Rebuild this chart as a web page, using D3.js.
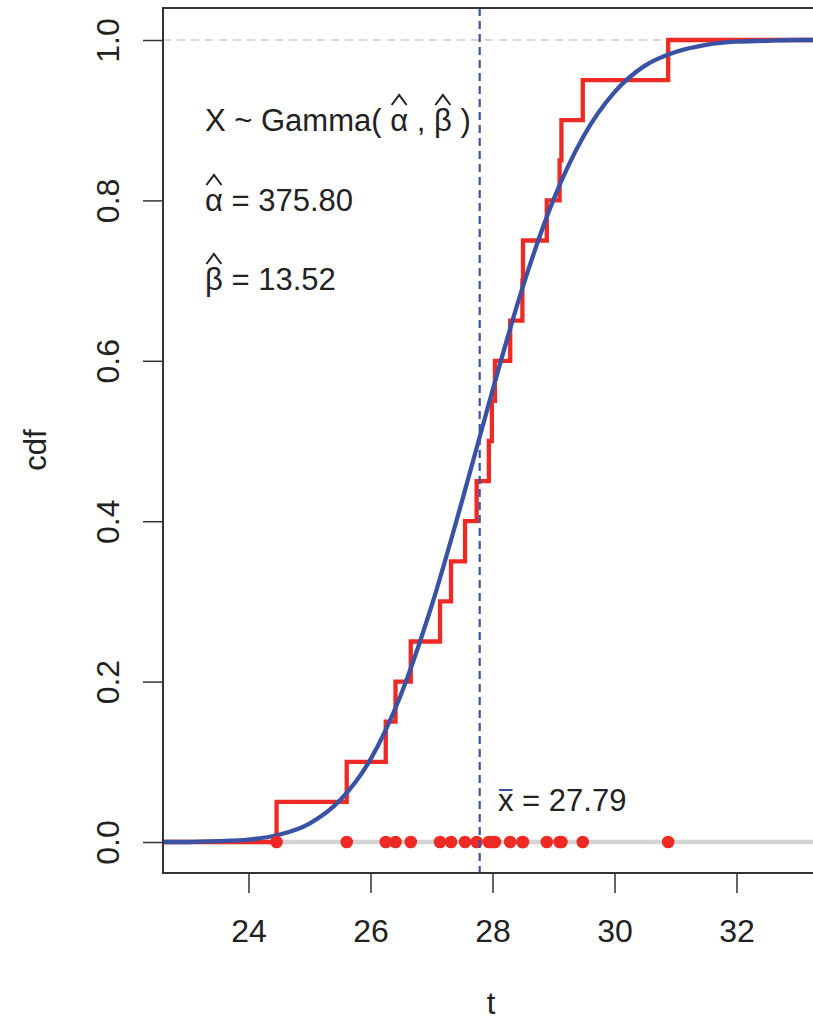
<!DOCTYPE html>
<html lang="en">
<head>
  <meta charset="UTF-8">
  <title>Gamma fit to empirical cdf</title>
  <script src="https://d3js.org/d3.v7.min.js"></script>
  <style>
    body { margin: 0; background: #fff; }
    svg { display: block; font-family: "Liberation Sans", Arial, Helvetica, sans-serif; }
    .tick line { stroke: #333; stroke-width: 1.5; }
    .tick text { fill: #222; font-size: 32px; }
    .lab { fill: #222; font-size: 31px; }
  </style>
</head>
<body>
<div id="chart"></div>
<script>
const sample = [24.46, 25.61, 26.25, 26.41, 26.66, 27.14, 27.32, 27.55, 27.74, 27.94,
                27.99, 28.04, 28.29, 28.49, 28.50, 28.89, 29.10, 29.13, 29.48, 30.88];

// fitted cdf curve
const curveT   = [22.6, 23.0, 23.5, 24.0, 24.5, 25.0, 25.5, 26.0, 26.5, 27.0, 27.5,
                  28.0, 28.5, 29.0, 29.5, 30.0, 30.5, 31.0, 31.5, 32.0, 32.5, 33.0, 33.5];
const curveCdf = [0.000, 0.000, 0.001, 0.003, 0.009, 0.023, 0.052, 0.103, 0.184, 0.294, 0.425,
                  0.563, 0.693, 0.801, 0.881, 0.935, 0.968, 0.985, 0.994, 0.998, 0.999, 1.000, 1.000];

const xTicks = [24, 26, 28, 30, 32];
const yTicks = [0, 0.2, 0.4, 0.6, 0.8, 1.0];

const alphaHat = "375.80";
const betaHat = "13.52";
const meanT = 27.79;

const W = 813, H = 1021;
const box = { left: 163, top: 8, right: 840, bottom: 873 };

const red = "#ee2a24", blue = "#3a52a3";

const svg = d3.select("#chart").append("svg")
  .attr("width", W).attr("height", H);

const x = d3.scaleLinear().domain([24, 32]).range([248.5, 736.5]);
const y = d3.scaleLinear().domain([0, 1]).range([842, 40]);

const tLeft = x.invert(box.left), tRight = x.invert(box.right);

svg.append("defs").append("clipPath").attr("id", "plotclip")
  .append("rect")
  .attr("x", box.left).attr("y", box.top)
  .attr("width", box.right - box.left).attr("height", box.bottom - box.top);

const plot = svg.append("g").attr("clip-path", "url(#plotclip)");

// reference lines at 0 and 1
plot.append("line")
  .attr("x1", box.left).attr("x2", box.right)
  .attr("y1", y(0)).attr("y2", y(0))
  .attr("stroke", "#d4d4d4").attr("stroke-width", 4.5);

plot.append("line")
  .attr("x1", box.left).attr("x2", box.right)
  .attr("y1", y(1)).attr("y2", y(1))
  .attr("stroke", "#cccccc").attr("stroke-width", 1.5)
  .attr("stroke-dasharray", "8,6");

// empirical cdf as a step line
const n = sample.length;
const sorted = sample.slice().sort(d3.ascending);
const ecdf = [{ t: tLeft, p: 0 }]
  .concat(sorted.map((v, i) => ({ t: v, p: (i + 1) / n })))
  .concat([{ t: tRight, p: 1 }]);

plot.append("path")
  .datum(ecdf)
  .attr("fill", "none")
  .attr("stroke", red)
  .attr("stroke-width", 4.3)
  .attr("d", d3.line().x(d => x(d.t)).y(d => y(d.p)).curve(d3.curveStepAfter));

// fitted gamma cdf
const fit = curveT.map((t, i) => ({ t: t, p: curveCdf[i] }));
plot.append("path")
  .datum(fit)
  .attr("fill", "none")
  .attr("stroke", blue)
  .attr("stroke-width", 4.3)
  .attr("d", d3.line().x(d => x(d.t)).y(d => y(d.p)).curve(d3.curveMonotoneX));

// sample points on the baseline
plot.selectAll(".pt")
  .data(sample)
  .enter()
  .append("circle")
  .attr("class", "pt")
  .attr("cx", d => x(d))
  .attr("cy", y(0))
  .attr("r", 6.3)
  .attr("fill", red);

// mean line
plot.append("line")
  .attr("x1", x(meanT)).attr("x2", x(meanT))
  .attr("y1", box.top).attr("y2", box.bottom)
  .attr("stroke", blue).attr("stroke-width", 2.2)
  .attr("stroke-dasharray", "8,5");

// frame
svg.append("rect")
  .attr("x", box.left).attr("y", box.top)
  .attr("width", box.right - box.left).attr("height", box.bottom - box.top)
  .attr("fill", "none").attr("stroke", "#333").attr("stroke-width", 2);

// axes
const xAxis = svg.append("g")
  .attr("transform", `translate(0,${box.bottom})`)
  .call(d3.axisBottom(x).tickValues(xTicks).tickSize(20).tickFormat(d3.format("d")));
xAxis.select(".domain").remove();
xAxis.selectAll(".tick text")
  .attr("y", 69).attr("dy", 0);

const yAxis = svg.append("g")
  .attr("transform", `translate(${box.left},0)`)
  .call(d3.axisLeft(y).tickValues(yTicks).tickSize(20).tickFormat(d3.format(".1f")));
yAxis.select(".domain").remove();
yAxis.selectAll(".tick text")
  .attr("x", 0).attr("y", 0).attr("dy", 0)
  .attr("text-anchor", "middle")
  .attr("transform", "translate(-44.5,0) rotate(-90)");

svg.append("text")
  .attr("class", "lab")
  .attr("text-anchor", "middle")
  .attr("x", 491).attr("y", 1014)
  .text("t");

svg.append("text")
  .attr("class", "lab")
  .attr("text-anchor", "middle")
  .attr("transform", "translate(46,450) rotate(-90)")
  .text("cdf");

// annotation with hats drawn above chosen characters
function hatText(px, py, parts, color) {
  const t = svg.append("text")
    .attr("class", "lab")
    .attr("x", px).attr("y", py)
    .attr("fill", color);
  parts.forEach(p => t.append("tspan").text(p.s));
  const node = t.node();
  let idx = 0;
  parts.forEach(p => {
    if (p.hat) {
      const ext = node.getExtentOfChar(idx);
      const cx = ext.x + ext.width / 2;
      const hw = 7.5;
      svg.append("path")
        .attr("d", `M${cx - hw},${py - 26} L${cx},${py - 36} L${cx + hw},${py - 26}`)
        .attr("fill", "none").attr("stroke", color).attr("stroke-width", 2);
    }
    if (p.bar) {
      const ext = node.getExtentOfChar(idx);
      svg.append("line")
        .attr("x1", ext.x + 1).attr("x2", ext.x + ext.width - 1)
        .attr("y1", py - 21).attr("y2", py - 21)
        .attr("stroke", color).attr("stroke-width", 2);
    }
    idx += p.s.length;
  });
}

hatText(205, 131, [{ s: "X ~ Gamma( " }, { s: "\u03b1", hat: true }, { s: " , " },
                   { s: "\u03b2", hat: true }, { s: " )" }], "#222");
hatText(205, 211, [{ s: "\u03b1", hat: true }, { s: " = " + alphaHat }], "#222");
hatText(205, 290, [{ s: "\u03b2", hat: true }, { s: " = " + betaHat }], "#222");
hatText(498, 811, [{ s: "x", bar: true }, { s: " = " + meanT.toFixed(2) }], blue);
</script>
</body>
</html>
